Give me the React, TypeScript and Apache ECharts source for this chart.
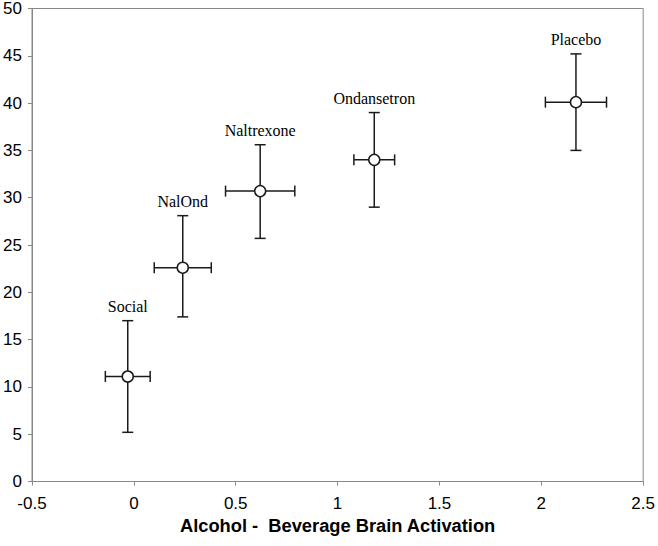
import React, { useEffect, useRef } from "react";
import * as echarts from "echarts";

const names = ["Social", "NalOnd", "Naltrexone", "Ondansetron", "Placebo"];
const xMeans = [-0.03, 0.24, 0.62, 1.18, 2.17];
const yMeans = [11.1, 22.6, 30.7, 34.0, 40.1];
const xErr = [0.11, 0.14, 0.17, 0.1, 0.15];
const yErrUp = [5.9, 5.5, 4.9, 5.0, 5.1];
const yErrDown = [5.9, 5.2, 5.0, 5.0, 5.1];
const xTicks = { min: -0.5, max: 2.5, interval: 0.5 };
const yTicks = { min: 0, max: 50, interval: 5 };
const xTitle = "Alcohol -  Beverage Brain Activation";

export default function App() {
  const ref = useRef<HTMLDivElement>(null);
  useEffect(() => {
    if (!ref.current) return;
    const chart = echarts.init(ref.current, null, { renderer: "svg" });
    const errData = names.map((n, i) => [
      xMeans[i],
      yMeans[i],
      xMeans[i] - xErr[i],
      xMeans[i] + xErr[i],
      yMeans[i] - yErrDown[i],
      yMeans[i] + yErrUp[i],
      n,
    ]);
    const lineStyle = { stroke: "#1a1a1a", lineWidth: 1.5 };
    const cap = 5.5;
    chart.setOption({
      animation: false,
      backgroundColor: "#ffffff",
      grid: {
        left: 32,
        right: 13,
        top: 7,
        bottom: 64.5,
        show: true,
        borderColor: "#888888",
        borderWidth: 1,
        containLabel: false,
      },
      xAxis: {
        type: "value",
        min: xTicks.min,
        max: xTicks.max,
        interval: xTicks.interval,
        name: xTitle,
        nameLocation: "middle",
        nameGap: 33,
        nameTextStyle: {
          fontFamily: "Liberation Sans, Arial, sans-serif",
          fontWeight: "bold",
          fontSize: 18.3,
          color: "#000",
        },
        splitLine: { show: false },
        axisLine: { show: true, onZero: false, lineStyle: { color: "#888888", width: 1 } },
        axisTick: { show: true, inside: false, length: 4, lineStyle: { color: "#888888" } },
        axisLabel: {
          fontFamily: "Liberation Sans, Arial, sans-serif",
          fontSize: 17,
          color: "#000",
          margin: 13,
        },
      },
      yAxis: {
        type: "value",
        min: yTicks.min,
        max: yTicks.max,
        interval: yTicks.interval,
        splitLine: { show: false },
        axisLine: { show: true, onZero: false, lineStyle: { color: "#888888", width: 1 } },
        axisTick: { show: true, inside: false, length: 4, lineStyle: { color: "#888888" } },
        axisLabel: {
          fontFamily: "Liberation Sans, Arial, sans-serif",
          fontSize: 17,
          color: "#000",
          margin: 10,
        },
      },
      series: [
        {
          type: "custom",
          data: errData,
          encode: { x: 0, y: 1 },
          z: 2,
          renderItem: (params: any, api: any) => {
            const c = api.coord([api.value(0), api.value(1)]);
            const l = api.coord([api.value(2), api.value(1)]);
            const r = api.coord([api.value(3), api.value(1)]);
            const b = api.coord([api.value(0), api.value(4)]);
            const t = api.coord([api.value(0), api.value(5)]);
            const name = names[params.dataIndex];
            return {
              type: "group",
              children: [
                { type: "line", shape: { x1: l[0], y1: c[1], x2: r[0], y2: c[1] }, style: lineStyle },
                { type: "line", shape: { x1: l[0], y1: c[1] - cap, x2: l[0], y2: c[1] + cap }, style: lineStyle },
                { type: "line", shape: { x1: r[0], y1: c[1] - cap, x2: r[0], y2: c[1] + cap }, style: lineStyle },
                { type: "line", shape: { x1: c[0], y1: t[1], x2: c[0], y2: b[1] }, style: lineStyle },
                { type: "line", shape: { x1: c[0] - cap, y1: t[1], x2: c[0] + cap, y2: t[1] }, style: lineStyle },
                { type: "line", shape: { x1: c[0] - cap, y1: b[1], x2: c[0] + cap, y2: b[1] }, style: lineStyle },
                {
                  type: "text",
                  x: c[0],
                  y: t[1] - 6,
                  style: {
                    text: name,
                    textAlign: "center",
                    textVerticalAlign: "bottom",
                    font: '16px "Liberation Serif", "Times New Roman", serif',
                    fill: "#000",
                  },
                },
              ],
            };
          },
        },
        {
          type: "scatter",
          data: xMeans.map((x, i) => [x, yMeans[i]]),
          symbol: "circle",
          symbolSize: 11,
          z: 3,
          itemStyle: { color: "#ffffff", borderColor: "#1a1a1a", borderWidth: 1.5, opacity: 1 },
        },
      ],
    });
    return () => chart.dispose();
  }, []);
  return <div ref={ref} style={{ width: 658, height: 546, position: "absolute", left: 0, top: 0 }} />;
}
